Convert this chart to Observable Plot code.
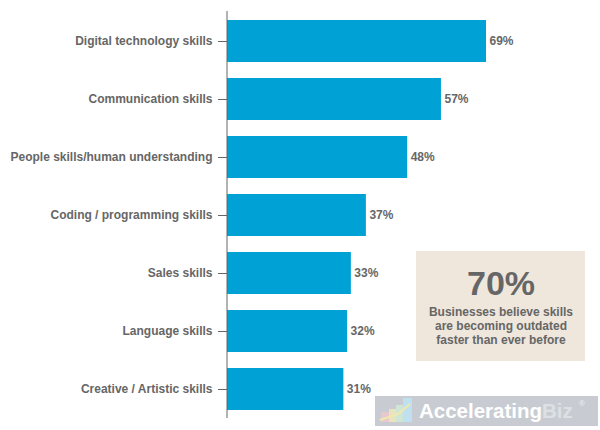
<!DOCTYPE html>
<html>
<head>
<meta charset="utf-8">
<script src="https://cdn.jsdelivr.net/npm/d3@7"></script>
<script src="https://cdn.jsdelivr.net/npm/@observablehq/plot@0.6"></script>
<style>
  html, body { margin: 0; padding: 0; background: #fff; }
  #wrap { position: relative; width: 600px; height: 430px; font-family: "Liberation Sans", Arial, Helvetica, sans-serif; }
  #wrap > svg.overlay { position: absolute; left: 0; top: 0; }
</style>
</head>
<body>
<div id="wrap"></div>
<script>
const skills = [
  "Digital technology skills",
  "Communication skills",
  "People skills/human understanding",
  "Coding / programming skills",
  "Sales skills",
  "Language skills",
  "Creative / Artistic skills"
];
const shares = [69, 57, 48, 37, 33, 32, 31];
const calloutValue = "70%";
const calloutLines = ["Businesses believe skills", "are becoming outdated", "faster than ever before"];

const data = skills.map((s, i) => ({skill: s, value: shares[i]}));

const chart = Plot.plot({
  width: 600,
  height: 430,
  marginTop: 11,
  marginBottom: 12,
  marginLeft: 227,
  marginRight: 0,
  style: {fontFamily: "'Liberation Sans', Arial, Helvetica, sans-serif", fontSize: "12px", color: "#666", background: "transparent", overflow: "visible"},
  x: {domain: [0, 69], range: [227, 486], axis: null},
  y: {domain: skills, paddingInner: 0.276, paddingOuter: 0.138, label: null},
  marks: [
    Plot.barX(data, {x: "value", y: "skill", fill: "#00a2d6"}),
    Plot.text(data, {x: "value", y: "skill", text: d => d.value + "%", textAnchor: "start", dx: 3, fontWeight: "bold", fill: "#666", fontSize: 12}),
    Plot.axisY({tickSize: 9, tickPadding: 6, fontWeight: "bold", fill: "#666", stroke: "#666", label: null}),
    Plot.ruleX([0], {stroke: "#666", strokeWidth: 1, dx: -0.5})
  ]
});
const wrap = document.getElementById("wrap");
wrap.appendChild(chart);

// Callout box and watermark overlay
const ns = "http://www.w3.org/2000/svg";
const ov = document.createElementNS(ns, "svg");
ov.setAttribute("class", "overlay");
ov.setAttribute("width", 600);
ov.setAttribute("height", 430);
function el(tag, attrs, text) {
  const e = document.createElementNS(ns, tag);
  for (const k in attrs) e.setAttribute(k, attrs[k]);
  if (text != null) e.textContent = text;
  ov.appendChild(e);
  return e;
}
el("rect", {x: 416, y: 251, width: 169, height: 110, fill: "#efe7dc"});
el("text", {x: 501, y: 295, "text-anchor": "middle", "font-size": 34, "font-weight": "bold", fill: "#666"}, calloutValue);
calloutLines.forEach((t, i) => {
  el("text", {x: 501, y: 316 + i * 14, "text-anchor": "middle", "font-size": 12, "font-weight": "bold", fill: "#666"}, t);
});
// watermark
el("rect", {x: 375, y: 396, width: 223, height: 30, fill: "#c8ccd2"});
el("rect", {x: 381, y: 412, width: 10, height: 10, fill: "#e8c8cc"});
el("rect", {x: 389, y: 409, width: 8, height: 13, fill: "#e8e4c0"});
el("rect", {x: 396, y: 405, width: 7, height: 17, fill: "#cfe6d6"});
el("rect", {x: 403, y: 398, width: 9, height: 24, fill: "#bfe0ee"});
el("path", {d: "M380,420 L398,414 L410,404", stroke: "#f0e8b0", "stroke-width": 2, fill: "none"});
const wt = el("text", {x: 419, y: 418, "font-size": 20.5, "font-weight": "bold", fill: "#fff"});
const t1 = document.createElementNS(ns, "tspan"); t1.textContent = "Accelerating"; wt.appendChild(t1);
const t2 = document.createElementNS(ns, "tspan"); t2.textContent = "Biz"; t2.setAttribute("fill", "#dde0e4"); wt.appendChild(t2);
el("text", {x: 579, y: 406, "font-size": 8, fill: "#eef0f2"}, "®");
wrap.appendChild(ov);
</script>
</body>
</html>
